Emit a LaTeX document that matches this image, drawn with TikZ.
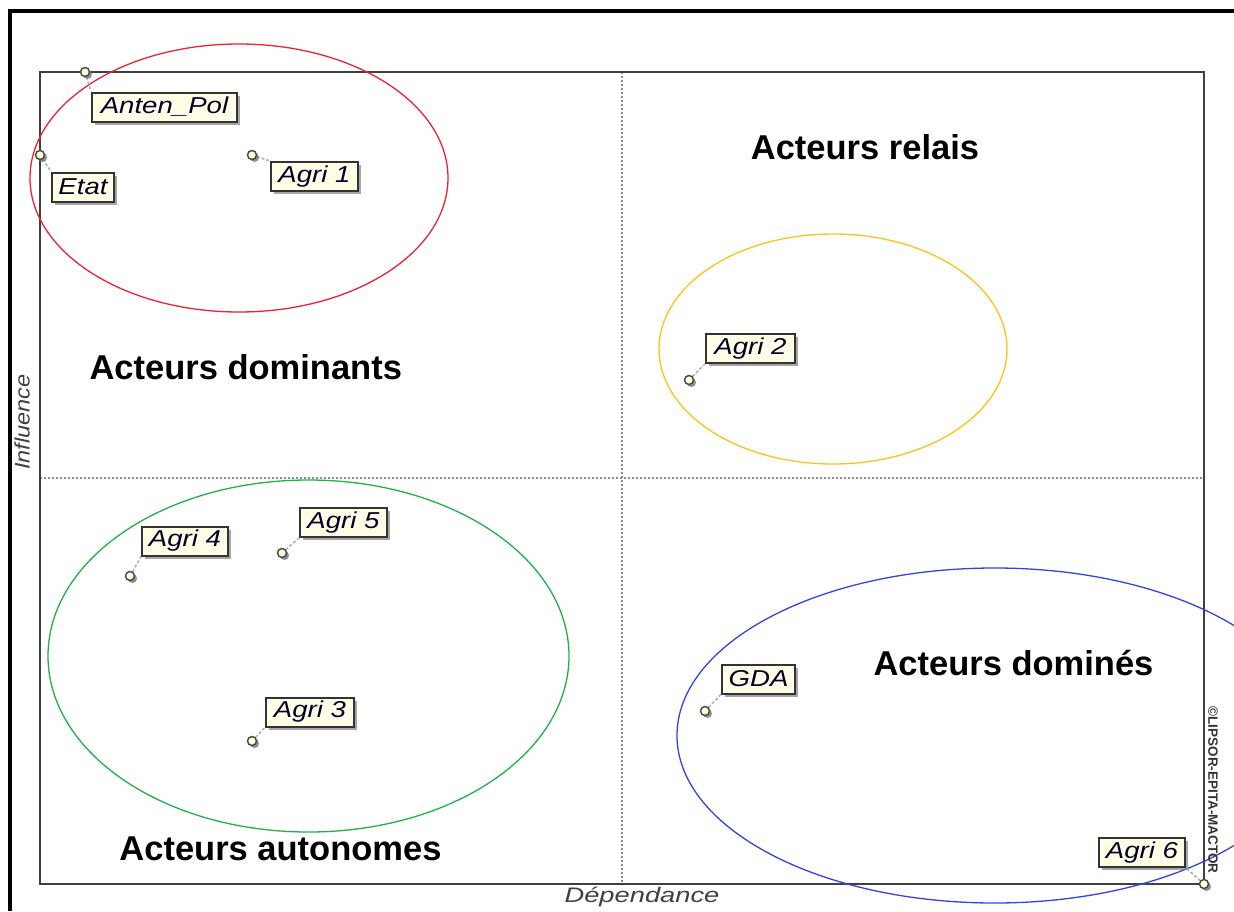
\documentclass[tikz,border=0pt]{standalone}
\usepackage{fontspec}
\setmainfont{Liberation Sans}
\usepackage{graphicx}
\usetikzlibrary{shadows}
\definecolor{labfill}{HTML}{FFFDE6}
\definecolor{framegray}{HTML}{404040}
\definecolor{redell}{HTML}{EE2233}
\definecolor{orangeell}{HTML}{FFC21A}
\definecolor{greenell}{HTML}{22B04A}
\definecolor{blueell}{HTML}{3344DD}
\newcommand{\sx}[1]{\scalebox{1.2}[1]{#1}}
\begin{document}
\begin{tikzpicture}[x=1pt,y=-1pt,
  lab/.style={draw=black!80, line width=2pt, fill=labfill, inner xsep=0pt, inner ysep=0pt,
    minimum height=29pt,
    drop shadow={shadow xshift=3pt,shadow yshift=-3pt,fill=black!50,opacity=0.7},
    font=\fontsize{23}{23}\selectfont\itshape, text=black!85!blue},
  pt/.style={circle, draw=black!70, fill=white!85!yellow, line width=1.5pt, inner sep=0pt,
    minimum size=9pt,
    drop shadow={shadow xshift=2.5pt,shadow yshift=-2.5pt,fill=black!55,opacity=0.8}},
  link/.style={draw=black!30, line width=1.6pt, dash pattern=on 3pt off 2pt},
  quad/.style={font=\fontsize{34.5}{34.5}\selectfont\bfseries, text=black},
  axlab/.style={font=\fontsize{21}{21}\selectfont\itshape, text=black!75},
  divider/.style={draw=black!45, line width=1.4pt, dash pattern=on 2pt off 2pt},
  ell/.style={line width=1.3pt}]
\useasboundingbox (0,0) rectangle (1234,911);

% outer frame (top and left)
\draw[line width=4pt, black] (9.5,911) -- (9.5,11) -- (1234,11);

% plot box and dividers
\draw[divider] (622,72) -- (622,884);
\draw[divider] (40,478) -- (1204,478);
\draw[framegray, line width=2pt] (40,72) rectangle (1204,884);

% ellipses
\draw[ell, redell] (239,178) ellipse [x radius=209, y radius=134];
\draw[ell, orangeell] (833,349) ellipse [x radius=174, y radius=115];
\draw[ell, greenell] (308.5,656) ellipse [x radius=260.5, y radius=176];
\draw[ell, blueell] (994.5,735.5) ellipse [x radius=317.5, y radius=167.5];

% quadrant labels
\node[quad] (qrel) at (865,147) {Acteurs relais};
\node[quad, anchor=west] (qdom) at (86,367) {Acteurs dominants};
\node[quad] (qaut) at (280.5,849) {Acteurs autonomes};
\node[quad] (qdmd) at (1013.5,663) {Acteurs dominés};

% axis labels
\node[axlab] (xlab) at (642,897) {\scalebox{1.3}[1]{Dépendance}};
\node[axlab, rotate=90] (ylab) at (22,422) {\scalebox{1.12}[1]{Influence}};
\node[font=\fontsize{13.5}{13.5}\selectfont\bfseries, text=black!80, rotate=-90] (copy) at (1213,790) {©LIPSOR-EPITA-MACTOR};

% labels
\node[lab, minimum width=145pt] (lAnten) at (164.5,107) {\sx{Anten\_Pol}};
\node[lab, minimum width=62pt] (lEtat) at (83,187) {\sx{Etat}};
\node[lab, minimum width=87pt] (lAgriOne) at (314.5,176.5) {\sx{Agri 1}};
\node[lab, minimum width=89pt] (lAgriTwo) at (750.5,348.5) {\sx{Agri 2}};
\node[lab, minimum width=86pt] (lAgriFour) at (185,541) {\sx{Agri 4}};
\node[lab, minimum width=87pt] (lAgriFive) at (343.5,522.5) {\sx{Agri 5}};
\node[lab, minimum width=88pt] (lAgriThree) at (310,712) {\sx{Agri 3}};
\node[lab, minimum width=73pt] (lGDA) at (758.5,679) {\sx{GDA}};
\node[lab, minimum width=86pt] (lAgriSix) at (1142,852.5) {\sx{Agri 6}};

% connectors
\draw[link] (85,72) coordinate (cAnten) -- (lAnten.north west);
\draw[link] (40,155) coordinate (cEtat) -- (lEtat.north west);
\draw[link] (252,155) coordinate (cAgriOne) -- (lAgriOne.north west);
\draw[link] (689,380) coordinate (cAgriTwo) -- (lAgriTwo.south west);
\draw[link] (130,576) coordinate (cAgriFour) -- (lAgriFour.south west);
\draw[link] (282,553) coordinate (cAgriFive) -- (lAgriFive.south west);
\draw[link] (252,741) coordinate (cAgriThree) -- (lAgriThree.south west);
\draw[link] (705,711) coordinate (cGDA) -- (lGDA.south west);
\draw[link] (1204,884) coordinate (cAgriSix) -- (lAgriSix.south east);

% points
\node[pt] (pAnten) at (cAnten) {};
\node[pt] (pEtat) at (cEtat) {};
\node[pt] (pAgriOne) at (cAgriOne) {};
\node[pt] (pAgriTwo) at (cAgriTwo) {};
\node[pt] (pAgriFour) at (cAgriFour) {};
\node[pt] (pAgriFive) at (cAgriFive) {};
\node[pt] (pAgriThree) at (cAgriThree) {};
\node[pt] (pGDA) at (cGDA) {};
\node[pt] (pAgriSix) at (cAgriSix) {};
\end{tikzpicture}
\end{document}
